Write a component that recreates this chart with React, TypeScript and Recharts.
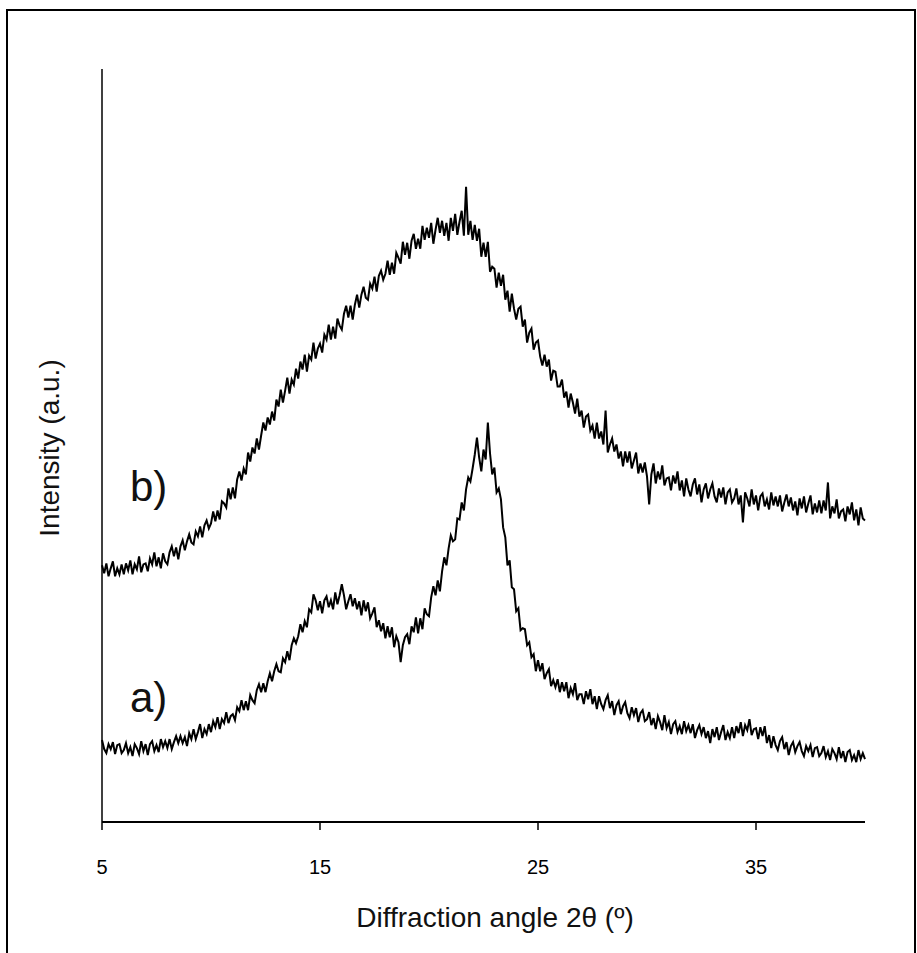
import React from 'react';
import { LineChart, Line, XAxis, YAxis } from 'recharts';

// diffraction angle 2θ (degrees), 0.1° step
const angles = [
  5.0, 5.1, 5.2, 5.3, 5.4, 5.5, 5.6, 5.7, 5.8, 5.9,
  6.0, 6.1, 6.2, 6.3, 6.4, 6.5, 6.6, 6.7, 6.8, 6.9,
  7.0, 7.1, 7.2, 7.3, 7.4, 7.5, 7.6, 7.7, 7.8, 7.9,
  8.0, 8.1, 8.2, 8.3, 8.4, 8.5, 8.6, 8.7, 8.8, 8.9,
  9.0, 9.1, 9.2, 9.3, 9.4, 9.5, 9.6, 9.7, 9.8, 9.9,
  10.0, 10.1, 10.2, 10.3, 10.4, 10.5, 10.6, 10.7, 10.8, 10.9,
  11.0, 11.1, 11.2, 11.3, 11.4, 11.5, 11.6, 11.7, 11.8, 11.9,
  12.0, 12.1, 12.2, 12.3, 12.4, 12.5, 12.6, 12.7, 12.8, 12.9,
  13.0, 13.1, 13.2, 13.3, 13.4, 13.5, 13.6, 13.7, 13.8, 13.9,
  14.0, 14.1, 14.2, 14.3, 14.4, 14.5, 14.6, 14.7, 14.8, 14.9,
  15.0, 15.1, 15.2, 15.3, 15.4, 15.5, 15.6, 15.7, 15.8, 15.9,
  16.0, 16.1, 16.2, 16.3, 16.4, 16.5, 16.6, 16.7, 16.8, 16.9,
  17.0, 17.1, 17.2, 17.3, 17.4, 17.5, 17.6, 17.7, 17.8, 17.9,
  18.0, 18.1, 18.2, 18.3, 18.4, 18.5, 18.6, 18.7, 18.8, 18.9,
  19.0, 19.1, 19.2, 19.3, 19.4, 19.5, 19.6, 19.7, 19.8, 19.9,
  20.0, 20.1, 20.2, 20.3, 20.4, 20.5, 20.6, 20.7, 20.8, 20.9,
  21.0, 21.1, 21.2, 21.3, 21.4, 21.5, 21.6, 21.7, 21.8, 21.9,
  22.0, 22.1, 22.2, 22.3, 22.4, 22.5, 22.6, 22.7, 22.8, 22.9,
  23.0, 23.1, 23.2, 23.3, 23.4, 23.5, 23.6, 23.7, 23.8, 23.9,
  24.0, 24.1, 24.2, 24.3, 24.4, 24.5, 24.6, 24.7, 24.8, 24.9,
  25.0, 25.1, 25.2, 25.3, 25.4, 25.5, 25.6, 25.7, 25.8, 25.9,
  26.0, 26.1, 26.2, 26.3, 26.4, 26.5, 26.6, 26.7, 26.8, 26.9,
  27.0, 27.1, 27.2, 27.3, 27.4, 27.5, 27.6, 27.7, 27.8, 27.9,
  28.0, 28.1, 28.2, 28.3, 28.4, 28.5, 28.6, 28.7, 28.8, 28.9,
  29.0, 29.1, 29.2, 29.3, 29.4, 29.5, 29.6, 29.7, 29.8, 29.9,
  30.0, 30.1, 30.2, 30.3, 30.4, 30.5, 30.6, 30.7, 30.8, 30.9,
  31.0, 31.1, 31.2, 31.3, 31.4, 31.5, 31.6, 31.7, 31.8, 31.9,
  32.0, 32.1, 32.2, 32.3, 32.4, 32.5, 32.6, 32.7, 32.8, 32.9,
  33.0, 33.1, 33.2, 33.3, 33.4, 33.5, 33.6, 33.7, 33.8, 33.9,
  34.0, 34.1, 34.2, 34.3, 34.4, 34.5, 34.6, 34.7, 34.8, 34.9,
  35.0, 35.1, 35.2, 35.3, 35.4, 35.5, 35.6, 35.7, 35.8, 35.9,
  36.0, 36.1, 36.2, 36.3, 36.4, 36.5, 36.6, 36.7, 36.8, 36.9,
  37.0, 37.1, 37.2, 37.3, 37.4, 37.5, 37.6, 37.7, 37.8, 37.9,
  38.0, 38.1, 38.2, 38.3, 38.4, 38.5, 38.6, 38.7, 38.8, 38.9,
  39.0, 39.1, 39.2, 39.3, 39.4, 39.5, 39.6, 39.7, 39.8, 39.9,
  40.0,
];

// pattern a) (lower trace), arbitrary units
const patternA = [
  82, 73, 69, 78, 73, 80, 68, 77, 78, 69,
  72, 79, 69, 75, 66, 78, 74, 68, 81, 71,
  78, 67, 78, 81, 71, 77, 70, 83, 75, 81,
  74, 83, 73, 80, 86, 79, 86, 79, 85, 76,
  89, 83, 93, 83, 90, 98, 84, 93, 88, 98,
  90, 101, 95, 105, 93, 103, 99, 110, 99, 106,
  108, 102, 115, 111, 122, 112, 121, 112, 127, 122,
  119, 132, 138, 130, 139, 130, 141, 149, 141, 151,
  158, 151, 150, 164, 160, 171, 162, 177, 184, 179,
  186, 198, 190, 201, 195, 213, 210, 228, 222, 212,
  221, 209, 222, 226, 215, 222, 213, 230, 218, 227,
  238, 227, 213, 221, 228, 216, 224, 213, 221, 207,
  222, 211, 220, 204, 209, 215, 195, 202, 191, 199,
  184, 196, 185, 195, 175, 186, 180, 160, 177, 185,
  188, 178, 196, 190, 205, 189, 204, 193, 214, 208,
  206, 225, 236, 227, 242, 231, 251, 265, 257, 274,
  287, 281, 283, 304, 303, 320, 312, 333, 345, 341,
  354, 368, 385, 365, 351, 373, 363, 400, 369, 348,
  355, 330, 334, 323, 295, 285, 257, 262, 235, 233,
  211, 214, 192, 194, 193, 177, 180, 165, 168, 151,
  162, 151, 159, 143, 149, 153, 136, 142, 135, 143,
  130, 140, 131, 140, 124, 134, 128, 139, 122, 128,
  128, 118, 131, 123, 133, 118, 126, 113, 126, 118,
  113, 122, 127, 114, 121, 107, 117, 121, 108, 116,
  120, 109, 104, 115, 107, 114, 100, 109, 112, 101,
  103, 110, 97, 104, 93, 106, 100, 92, 107, 94,
  100, 88, 98, 101, 90, 96, 88, 101, 91, 97,
  89, 98, 84, 92, 97, 88, 95, 84, 91, 79,
  93, 85, 95, 82, 90, 97, 82, 90, 84, 95,
  84, 96, 89, 100, 86, 97, 92, 103, 87, 93,
  94, 83, 95, 86, 96, 79, 87, 74, 86, 77,
  72, 81, 85, 73, 80, 67, 76, 80, 70, 76,
  80, 71, 66, 76, 71, 77, 65, 74, 75, 66,
  69, 76, 65, 71, 62, 73, 69, 63, 75, 64,
  71, 60, 70, 72, 62, 67, 60, 72, 63, 69,
  63,
];

// pattern b) (upper trace), arbitrary units
const patternB = [
  257, 249, 259, 246, 254, 261, 246, 254, 248, 258,
  248, 259, 252, 262, 248, 258, 253, 266, 250, 258,
  259, 251, 264, 258, 270, 256, 265, 254, 269, 261,
  258, 270, 276, 266, 275, 263, 276, 282, 272, 281,
  288, 280, 278, 291, 286, 296, 285, 297, 302, 294,
  299, 311, 301, 312, 303, 321, 319, 315, 334, 323,
  335, 324, 343, 351, 342, 354, 348, 370, 361, 375,
  369, 384, 373, 387, 400, 392, 405, 398, 411, 402,
  423, 416, 433, 420, 432, 445, 429, 443, 438, 454,
  444, 461, 453, 468, 451, 467, 463, 480, 464, 474,
  479, 470, 488, 483, 498, 483, 496, 484, 504, 497,
  493, 509, 517, 505, 517, 503, 518, 528, 515, 528,
  536, 525, 523, 539, 534, 546, 531, 547, 552, 543,
  549, 562, 548, 560, 549, 570, 565, 559, 581, 568,
  580, 564, 582, 589, 574, 584, 574, 597, 583, 595,
  585, 600, 579, 593, 605, 590, 602, 587, 600, 582,
  605, 592, 609, 588, 601, 612, 587, 636, 588, 602,
  583, 598, 582, 594, 566, 580, 566, 581, 551, 556,
  554, 535, 550, 537, 548, 523, 532, 511, 529, 514,
  503, 514, 516, 496, 503, 480, 490, 494, 473, 480,
  482, 466, 457, 468, 456, 463, 442, 452, 451, 436,
  436, 443, 425, 431, 415, 429, 420, 409, 424, 406,
  412, 395, 406, 408, 392, 397, 384, 400, 384, 391,
  378, 412, 370, 378, 384, 371, 378, 364, 371, 356,
  371, 360, 371, 354, 362, 370, 349, 359, 350, 360,
  346, 318, 348, 359, 339, 351, 343, 357, 337, 344,
  345, 332, 347, 339, 351, 332, 342, 326, 344, 333,
  326, 338, 344, 328, 338, 320, 333, 339, 324, 333,
  339, 326, 320, 334, 325, 335, 318, 330, 333, 320,
  324, 334, 318, 327, 300, 330, 324, 316, 333, 318,
  327, 312, 326, 329, 316, 323, 313, 330, 317, 326,
  316, 327, 311, 320, 328, 316, 325, 312, 321, 307,
  324, 314, 326, 310, 319, 327, 308, 319, 310, 322,
  309, 322, 312, 340, 304, 316, 309, 323, 304, 311,
  313, 301, 316, 308, 320, 302, 313, 297, 315, 304,
  302,
];

const xTicks = [5, 15, 25, 35];

const data = angles.map((angle, i) => ({ angle, a: patternA[i], b: patternB[i] }));

const font = '"Liberation Sans", Arial, sans-serif';

const App = () => {
  return (
    <div style={{ position: 'absolute', left: 0, top: 0, width: 917, height: 953, overflow: 'hidden', background: '#fff' }}>
      <div
        style={{
          position: 'absolute',
          left: 6,
          top: 9,
          width: 906,
          height: 980,
          borderTop: '2px solid #000',
          borderLeft: '2px solid #000',
          borderRight: '2px solid #000',
        }}
      />
      <div style={{ position: 'absolute', left: 0, top: 0 }}>
        <LineChart width={917} height={953} data={data} margin={{ top: 69, right: 52, bottom: 71, left: 92 }}>
          <XAxis
            dataKey="angle"
            type="number"
            domain={[5, 40]}
            ticks={xTicks}
            height={60}
            tickSize={8}
            tickMargin={30}
            axisLine={{ stroke: '#000', strokeWidth: 2 }}
            tickLine={{ stroke: '#000', strokeWidth: 1.5 }}
            tick={{ fill: '#000', fontSize: 20, fontFamily: font }}
          />
          <YAxis
            type="number"
            domain={[0, 754]}
            width={10}
            tick={false}
            tickLine={false}
            axisLine={{ stroke: '#000', strokeWidth: 1.5 }}
          />
          <Line dataKey="a" type="linear" stroke="#000" strokeWidth={2} dot={false} isAnimationActive={false} />
          <Line dataKey="b" type="linear" stroke="#000" strokeWidth={2} dot={false} isAnimationActive={false} />
        </LineChart>
      </div>
      <div style={{ position: 'absolute', left: 130, top: 462, fontFamily: font, fontSize: 42, lineHeight: '50px', color: '#111' }}>b)</div>
      <div style={{ position: 'absolute', left: 130, top: 673, fontFamily: font, fontSize: 42, lineHeight: '50px', color: '#111' }}>a)</div>
      <div
        style={{
          position: 'absolute',
          left: 50,
          top: 448,
          transform: 'translate(-50%, -50%) rotate(-90deg)',
          whiteSpace: 'nowrap',
          fontFamily: font,
          fontSize: 28,
          color: '#111',
        }}
      >
        Intensity (a.u.)
      </div>
      <div
        style={{
          position: 'absolute',
          left: 495,
          top: 918,
          transform: 'translate(-50%, -50%)',
          whiteSpace: 'nowrap',
          fontFamily: font,
          fontSize: 28,
          color: '#111',
        }}
      >
        Diffraction angle 2θ (º)
      </div>
    </div>
  );
};

export default App;
